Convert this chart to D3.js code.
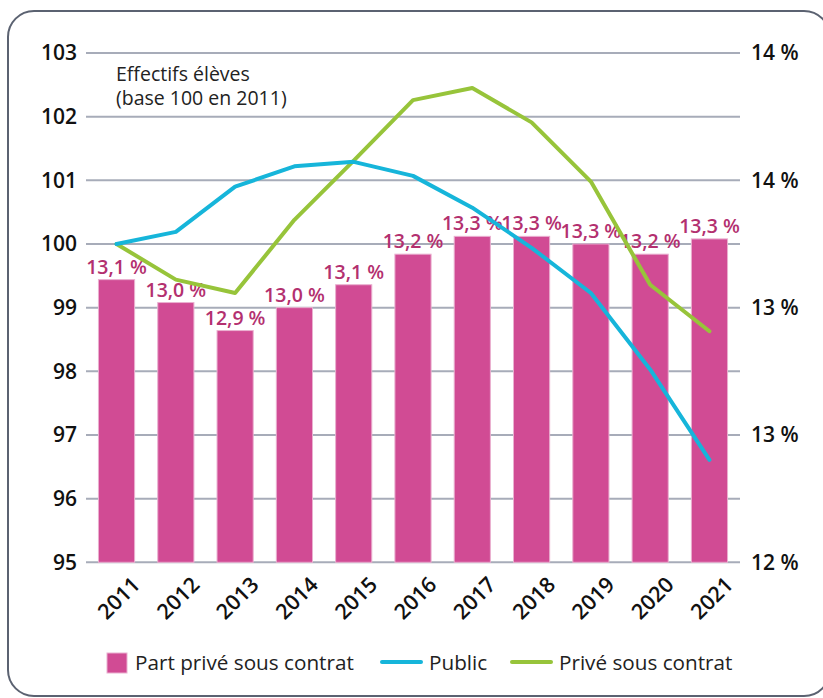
<!DOCTYPE html>
<html>
<head>
<meta charset="utf-8">
<script src="https://cdn.jsdelivr.net/npm/d3@7"></script>
<style>
  body { margin: 0; background: #fff; }
  svg text { font-family: "Open Sans", sans-serif; }
</style>
</head>
<body>
<div id="chart"></div>
<script>
var years = ["2011", "2012", "2013", "2014", "2015", "2016", "2017", "2018", "2019", "2020", "2021"]
// part du privé sous contrat (%), axe de droite
var part_prive = [13.11, 13.02, 12.91, 13.00, 13.09, 13.21, 13.28, 13.28, 13.25, 13.21, 13.27]
// effectifs base 100 en 2011, axe de gauche
var public_idx = [100, 100.19, 100.90, 101.22, 101.29, 101.07, 100.57, 99.94, 99.23, 98.03, 96.61]
var prive_idx = [100, 99.44, 99.23, 100.38, 101.31, 102.26, 102.45, 101.91, 100.98, 99.36, 98.63]
var left_ticks = [95, 96, 97, 98, 99, 100, 101, 102, 103]
var right_ticks = [12, 12.5, 13, 13.5, 14]

var W = 823, H = 698
var svg = d3.select("#chart").append("svg").attr("width", W).attr("height", H)

// cadre arrondi
svg.append("rect")
  .attr("x", 8).attr("y", 11)
  .attr("width", 822).attr("height", 685)
  .attr("rx", 26)
  .attr("fill", "none")
  .attr("stroke", "#5b6271")
  .attr("stroke-width", 2)

var x = d3.scaleBand().domain(years).range([86, 740]).paddingInner(0.39).paddingOuter(0.21)
var yL = d3.scaleLinear().domain([95, 103]).range([562.3, 53])
var yR = d3.scaleLinear().domain([12, 14]).range([562.3, 53])

// grille
svg.append("g").selectAll("line")
  .data(left_ticks)
  .enter().append("line")
  .attr("x1", 86).attr("x2", 740)
  .attr("y1", function (d) { return yL(d) })
  .attr("y2", function (d) { return yL(d) })
  .attr("stroke", "#a7acb9")
  .attr("stroke-width", 2)

// axe gauche
var axL = svg.append("g").attr("transform", "translate(86,0)")
  .call(d3.axisLeft(yL).tickValues(left_ticks).tickSize(0).tickPadding(9))
axL.select(".domain").remove()
axL.selectAll("text")
  .attr("font-size", "21px").attr("font-weight", 600).attr("fill", "#111")
  .style("font-family", "'Open Sans', sans-serif")

// axe droit
var fmtR = d3.format(".0f")
var axR = svg.append("g").attr("transform", "translate(740,0)")
  .call(d3.axisRight(yR).tickValues(right_ticks).tickSize(0).tickPadding(11)
    .tickFormat(function (d) { return fmtR(d) + " %" }))
axR.select(".domain").remove()
axR.selectAll("text")
  .attr("font-size", "21px").attr("font-weight", 600).attr("fill", "#111")
  .style("font-family", "'Open Sans', sans-serif")

// barres
svg.append("g").selectAll("rect")
  .data(years)
  .enter().append("rect")
  .attr("x", function (d) { return x(d) })
  .attr("width", x.bandwidth())
  .attr("y", function (d, i) { return yR(part_prive[i]) })
  .attr("height", function (d, i) { return yR(12) - yR(part_prive[i]) })
  .attr("fill", "#d14b94")
  .attr("stroke", "#eab0d0")
  .attr("stroke-width", 1)

// étiquettes des barres
var fmtP = d3.format(".1f")
svg.append("g").selectAll("text")
  .data(years)
  .enter().append("text")
  .attr("x", function (d) { return x(d) + x.bandwidth() / 2 })
  .attr("y", function (d, i) { return yR(part_prive[i]) - 6 })
  .attr("text-anchor", "middle")
  .attr("font-size", "19.5px")
  .attr("font-weight", 600)
  .attr("fill", "#b3306f")
  .text(function (d, i) { return fmtP(part_prive[i]).replace(".", ",") + " %" })

// courbes
var cx = function (d, i) { return x(years[i]) + x.bandwidth() / 2 }
var line = d3.line().x(cx).y(function (d) { return yL(d) })

svg.append("path").datum(prive_idx)
  .attr("d", line)
  .attr("fill", "none").attr("stroke", "#97c43a").attr("stroke-width", 4)
  .attr("stroke-linejoin", "round").attr("stroke-linecap", "round")

svg.append("path").datum(public_idx)
  .attr("d", line)
  .attr("fill", "none").attr("stroke", "#16b5da").attr("stroke-width", 4)
  .attr("stroke-linejoin", "round").attr("stroke-linecap", "round")

// titre d'axe
var t = svg.append("text").attr("x", 116).attr("y", 81).attr("font-size", "19.5px").attr("fill", "#222")
t.append("tspan").attr("x", 116).text("Effectifs élèves")
t.append("tspan").attr("x", 116).attr("dy", 24).text("(base 100 en 2011)")

// étiquettes de l'axe x
svg.append("g").selectAll("text")
  .data(years)
  .enter().append("text")
  .attr("transform", function (d) {
    return "translate(" + (x(d) + x.bandwidth() / 2 + 25) + ",586) rotate(-45)"
  })
  .attr("text-anchor", "end")
  .attr("font-size", "21.5px")
  .attr("font-weight", 600)
  .attr("fill", "#111")
  .text(function (d) { return d })

// légende
var lg = svg.append("g")
lg.append("rect").attr("x", 107).attr("y", 653).attr("width", 20).attr("height", 20)
  .attr("fill", "#d14b94").attr("stroke", "#eab0d0")
lg.append("text").attr("x", 135).attr("y", 670).attr("font-size", "20.7px").attr("fill", "#222")
  .text("Part privé sous contrat")
lg.append("line").attr("x1", 382).attr("x2", 421).attr("y1", 662).attr("y2", 662)
  .attr("stroke", "#16b5da").attr("stroke-width", 4).attr("stroke-linecap", "round")
lg.append("text").attr("x", 429).attr("y", 670).attr("font-size", "20.7px").attr("fill", "#222")
  .text("Public")
lg.append("line").attr("x1", 512).attr("x2", 551).attr("y1", 662).attr("y2", 662)
  .attr("stroke", "#97c43a").attr("stroke-width", 4).attr("stroke-linecap", "round")
lg.append("text").attr("x", 559).attr("y", 670).attr("font-size", "20.7px").attr("fill", "#222")
  .text("Privé sous contrat")
</script>
</body>
</html>
